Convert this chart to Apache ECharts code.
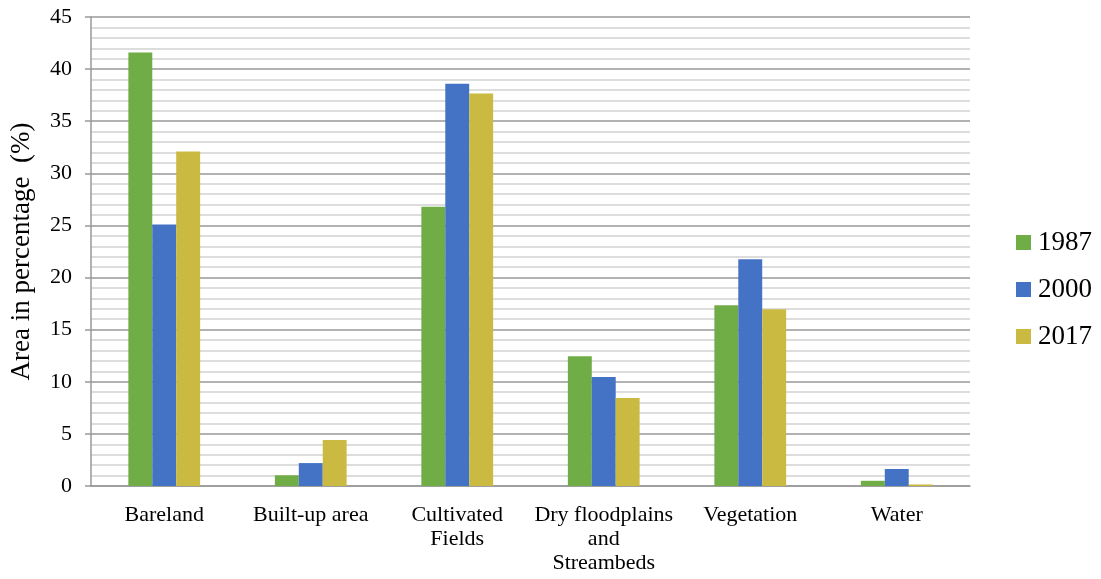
<!DOCTYPE html>
<html>
<head>
<meta charset="utf-8">
<script src="https://cdn.jsdelivr.net/npm/echarts@6/dist/echarts.min.js"></script>
<style>html,body{margin:0;padding:0;background:#fff;}#c{width:1101px;height:579px;}</style>
</head>
<body>
<div id="c"></div>
<script>
const categories = ['Bareland', 'Built-up area', 'Cultivated\nFields', 'Dry floodplains\nand\nStreambeds', 'Vegetation', 'Water'];
const seriesNames = ['1987', '2000', '2017'];
const v1987 = [41.6, 1.03, 26.8, 12.45, 17.35, 0.5];
const v2000 = [25.1, 2.2, 38.6, 10.45, 21.75, 1.63];
const v2017 = [32.1, 4.42, 37.65, 8.45, 16.95, 0.15];
const yTicks = [0, 5, 10, 15, 20, 25, 30, 35, 40, 45];
const colors = ['#70AD47', '#4472C4', '#CBBA42'];
const font = 'Liberation Serif';

const chart = echarts.init(document.getElementById('c'));
const data = [v1987, v2000, v2017];
chart.setOption({
  animation: false,
  textStyle: { fontFamily: font },
  grid: { left: 88, right: 131, top: 17, bottom: 93 },
  legend: {
    orient: 'vertical', left: 1011, top: 'center',
    icon: 'rect',
    itemWidth: 15, itemHeight: 15, itemGap: 20,
    textStyle: { fontFamily: font, fontSize: 27, color: '#000', padding: [0, 0, 0, 2] },
    data: seriesNames
  },
  xAxis: {
    type: 'category', data: categories,
    axisLine: { lineStyle: { color: '#999', width: 1.5 } },
    axisTick: { show: false },
    axisLabel: { fontFamily: font, fontSize: 22, color: '#000', margin: 17, lineHeight: 24, interval: 0 }
  },
  yAxis: {
    type: 'value', min: yTicks[0], max: yTicks[yTicks.length - 1], interval: 5,
    name: 'Area in percentage  (%)', nameLocation: 'middle', nameGap: 56,
    nameTextStyle: { fontFamily: font, fontSize: 27, color: '#000' },
    axisLine: { show: true, lineStyle: { color: '#999', width: 1.5 } },
    axisTick: { show: true, length: 6, lineStyle: { color: '#999', width: 1.5 } },
    axisLabel: { fontFamily: font, fontSize: 22, color: '#000', margin: 19 },
    splitLine: { lineStyle: { color: '#999', width: 1.5 } },
    minorTick: { show: false, splitNumber: 5 },
    minorSplitLine: { show: true, lineStyle: { color: '#d2d2d2', width: 1.5 } }
  },
  series: seriesNames.map((n, i) => ({
    name: n, type: 'bar', data: data[i],
    barGap: '0%', barCategoryGap: '51%',
    itemStyle: { color: colors[i] }
  }))
});
</script>
</body>
</html>
